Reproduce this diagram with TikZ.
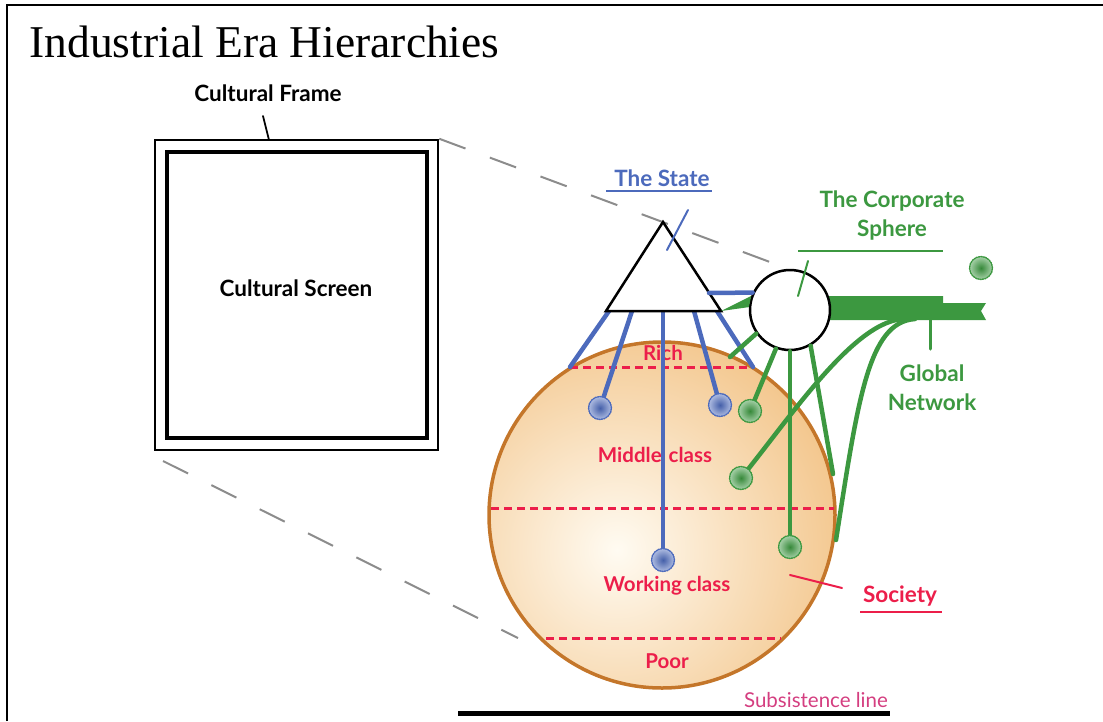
\documentclass[tikz,border=0pt]{standalone}
\usepackage{fontspec}
\setmainfont{Liberation Serif}
\setsansfont{Lato}
\usetikzlibrary{arrows.meta,positioning,shapes.geometric}

\definecolor{stateblue}{RGB}{76,106,188}
\definecolor{corpgreen}{RGB}{60,152,64}
\definecolor{classred}{RGB}{236,30,74}
\definecolor{sphereedge}{RGB}{196,118,42}
\definecolor{spherefill}{RGB}{238,176,98}
\definecolor{spherelight}{RGB}{255,251,242}
\definecolor{subpink}{RGB}{212,62,128}

\begin{document}
\begin{tikzpicture}[x=1pt, y=-1pt, line cap=round,
    every node/.style={font=\sffamily\bfseries},
    lbl/.style={font=\fontsize{22.5}{29}\selectfont\sffamily\bfseries, align=center},
    classlbl/.style={font=\fontsize{20.5}{22}\selectfont\sffamily\bfseries, text=classred},
    classline/.style={classred, line width=3pt, dash pattern=on 8pt off 5pt, line cap=butt},
    zoomline/.style={black!45, line width=2pt, dash pattern=on 28pt off 26pt, line cap=butt},
    stateline/.style={stateblue, line width=4.5pt},
    corpline/.style={corpgreen, line width=4.5pt},
    dotnode/.style={circle, minimum size=23pt, inner sep=0pt, densely dotted, line width=1.4pt},
    bluedot/.style={dotnode, draw=stateblue, inner color=stateblue!90!black, outer color=stateblue!45},
    greendot/.style={dotnode, draw=corpgreen, inner color=corpgreen!90!black, outer color=corpgreen!45}]
  \useasboundingbox (0,0) rectangle (1103,721);

  % Page frame and title
  \draw[line width=2.5pt, line cap=butt] (7,721) -- (7,5) -- (1103,5);
  \node[anchor=west, font=\fontsize{45.5}{50}\selectfont\rmfamily] (title) at (26,42)
        {Industrial Era Hierarchies};

  % Cultural frame and screen
  \node[draw, line width=2.5pt, minimum width=283pt, minimum height=310pt] (frame) at (296.5,295) {};
  \node[draw, line width=3.5pt, minimum width=260pt, minimum height=286pt] (screen) at (297,295) {};
  \node[lbl] (screenlbl) at (296,288) {Cultural Screen};
  \node[lbl] (framelbl) at (268,93) {Cultural Frame};
  \coordinate (frametick) at (263,116);
  \coordinate (frametop) at (269,140);
  \draw[line width=1.8pt] (frametick) -- (frametop);

  % Zoom lines
  \coordinate (zoom-b) at (786,268);
  \coordinate (zoom-c) at (163,461);
  \coordinate (zoom-d) at (518,638);
  \draw[zoomline] (frame.north east) -- (zoom-b);
  \draw[zoomline] (zoom-c) -- (zoom-d);

  % Society
  \node[circle, draw=sphereedge, line width=3.5pt, minimum size=346pt, inner sep=0pt,
        path picture={\shade[inner color=spherelight, outer color=spherefill]
          ([xshift=-45pt, yshift=-35pt]path picture bounding box.center) circle (330pt);}]
        (society) at (662,515) {};

  % Class boundaries
  \coordinate (rich-w) at (570,367);  \coordinate (rich-e) at (753,367);
  \coordinate (mid-w) at (491,508);   \coordinate (mid-e) at (834,508);
  \coordinate (poor-w) at (546,638);  \coordinate (poor-e) at (781,638);
  \draw[classline] (rich-w) -- (rich-e);
  \draw[classline] (mid-w) -- (mid-e);
  \draw[classline] (poor-w) -- (poor-e);
  \node[classlbl] (rich) at (663,353) {Rich};
  \node[classlbl] (middle) at (655,455) {Middle\hspace{7pt}class};
  \node[classlbl] (working) at (667,586) {Working class};
  \node[classlbl] (poor) at (667,661) {Poor};

  % The State
  \coordinate (st-top) at (663,222);
  \coordinate (st-l) at (606,311);
  \coordinate (st-r) at (721,311);
  \coordinate (st-1) at (609,311);
  \coordinate (st-2) at (632,311);
  \coordinate (st-3) at (663,311);
  \coordinate (st-4) at (694,311);
  \coordinate (st-5) at (717,311);
  \coordinate (st-side) at (709,293);
  \coordinate (b1) at (600,408);
  \coordinate (b2) at (720,405);
  \coordinate (b3) at (663,560);
  \draw[stateline] (st-1) -- (rich-w);
  \draw[stateline] (st-2) -- (b1);
  \draw[stateline] (st-3) -- (b3);
  \draw[stateline] (st-4) -- (b2);
  \draw[stateline] (st-5) -- (rich-e);
  \draw[line width=2.5pt, line join=miter, fill=white] (st-top) -- (st-l) -- (st-r) -- cycle;

  % The Corporate Sphere and global network
  \fill[corpgreen] (800,296) -- (943,296) -- (943,303) -- (986,303) -- (981,311)
        -- (986,320) -- (800,320) -- cycle;
  \node[circle, draw, line width=2.5pt, fill=white, minimum size=80pt, inner sep=0pt]
        (corp) at (790,310) {};
  \coordinate (g1) at (750,411);
  \coordinate (g2) at (741,478);
  \coordinate (g3) at (790,547);
  \coordinate (g-short) at (730,357);
  \coordinate (g-end1) at (833,474);
  \coordinate (g-end2) at (836,540);
  \coordinate (bar-1) at (905,319);
  \coordinate (bar-2) at (915,319);
  \coordinate (bar-3) at (930,319);
  \coordinate (netlbl-top) at (930,349);
  \draw[stateline] (st-side) -- (corp.155);
  \fill[corpgreen] (st-r) -- (corp.160) -- (corp.176) -- cycle;
  \draw[corpline] (corp.215) -- (g-short);
  \draw[corpline] (corp.250) -- (g1);
  \draw[corpline] (corp.270) -- (g3);
  \draw[corpline] (corp.300) -- (g-end1);
  \draw[corpline] (bar-1) .. controls (855,319) and (790,418) .. (g2);
  \draw[corpline] (bar-2) .. controls (868,322) and (858,400) .. (g-end2);
  \draw[corpgreen, line width=3pt] (bar-3) -- (netlbl-top);

  % Dots
  \node[bluedot] (bdot1) at (b1) {};
  \node[bluedot] (bdot2) at (b2) {};
  \node[bluedot] (bdot3) at (b3) {};
  \node[greendot] (gdot1) at (g1) {};
  \node[greendot] (gdot2) at (g2) {};
  \node[greendot] (gdot3) at (g3) {};
  \node[greendot] (gdot4) at (981,268) {};

  % Labels
  \node[lbl, text=stateblue] (statelbl) at (662,178) {The State};
  \draw[stateblue, line width=2.5pt, line cap=butt] (606,191) -- (712,191);
  \coordinate (st-tick1) at (688,210);
  \coordinate (st-tick2) at (667,250);
  \draw[stateblue, line width=2pt] (st-tick1) -- (st-tick2);

  \node[lbl, text=corpgreen] (corplbl) at (892,216) {The Corporate\\Sphere};
  \draw[corpgreen, line width=2.5pt, line cap=butt] (798,251) -- (943,251);
  \coordinate (corp-tick1) at (808,261);
  \coordinate (corp-tick2) at (798,296);
  \draw[corpgreen, line width=2pt] (corp-tick1) -- (corp-tick2);

  \node[lbl, text=corpgreen] (netlbl) at (932,388) {Global\\Network};

  \node[lbl, text=classred] (soclbl) at (900,596) {Society};
  \draw[classred, line width=2.5pt, line cap=butt] (860,612) -- (942,612);
  \coordinate (soc-tick1) at (790,575);
  \coordinate (soc-tick2) at (842,588);
  \draw[classred, line width=2pt] (soc-tick1) -- (soc-tick2);

  % Subsistence line
  \coordinate (sub-w) at (458,713);
  \coordinate (sub-e) at (890,713);
  \draw[line width=5pt, line cap=butt] (sub-w) -- (sub-e);
  \node[font=\fontsize{20.5}{22}\selectfont\sffamily, text=subpink] (sublbl) at (816,700)
        {Subsistence line};
\end{tikzpicture}
\end{document}
